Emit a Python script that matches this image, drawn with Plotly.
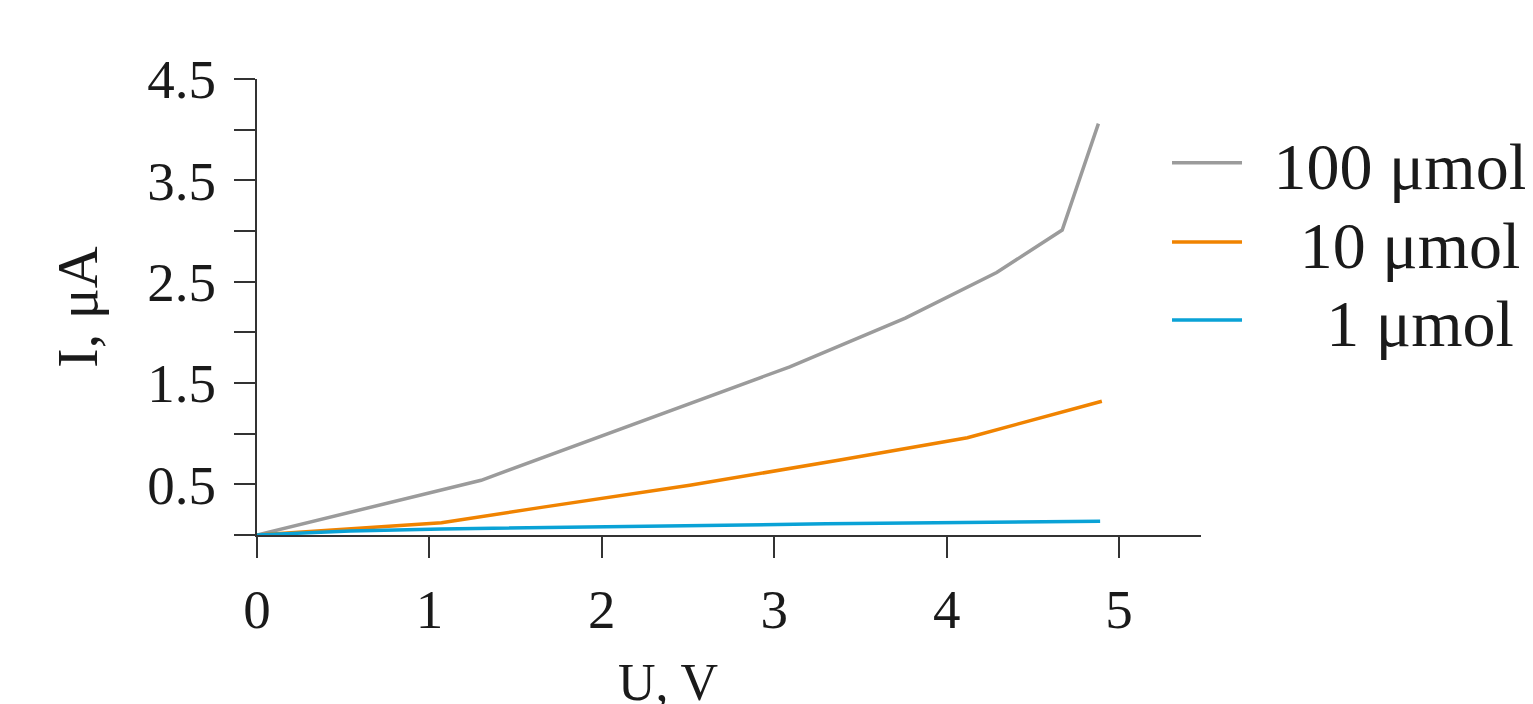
import plotly.graph_objects as go

# ---- data ----
series_names = ["100 μmol", "10 μmol", "1 μmol"]
pad = "\u2009\u2009"
legend_labels = [pad + "100 μmol", pad + "\u2009\u200910 μmol", pad + "\u2009\u2009\u2009\u20091 μmol"]
colors = ["#9b9b9b", "#f08300", "#0aa2d6"]

u_100 = [0.0, 1.30, 3.09, 3.76, 4.29, 4.67, 4.88]
i_100 = [0.0, 0.54, 1.66, 2.14, 2.59, 3.01, 4.06]

u_10 = [0.0, 1.07, 1.64, 2.51, 3.38, 4.12, 4.90]
i_10 = [0.0, 0.12, 0.27, 0.49, 0.74, 0.96, 1.32]

u_1 = [0.0, 0.54, 1.07, 1.70, 3.30, 4.89]
i_1 = [0.0, 0.04, 0.06, 0.075, 0.11, 0.135]

y_tickvals = [0, 0.5, 1, 1.5, 2, 2.5, 3, 3.5, 4, 4.5]
y_ticktext = ["", "0.5", "", "1.5", "", "2.5", "", "3.5", "", "4.5"]
x_tickvals = [0, 1, 2, 3, 4, 5]
x_ticktext = ["0", "1", "2", "3", "4", "5"]

FONT = "Liberation Serif, Times New Roman, serif"
TXT = "#1a1a1a"

legend_ids = ["legend", "legend2", "legend3"]
legend_y = [0.816, 0.6425, 0.4715]

fig = go.Figure()
for u, i, name, lab, col, lid in zip([u_100, u_10, u_1], [i_100, i_10, i_1],
                                     series_names, legend_labels, colors, legend_ids):
    fig.add_trace(go.Scatter(x=u, y=i, mode="lines", name=lab, legend=lid,
                             line=dict(color=col, width=3.5)))

legend_style = dict(x=0.964, xanchor="left", yanchor="middle",
                    font=dict(size=66, family=FONT, color=TXT),
                    itemwidth=70, bgcolor="rgba(0,0,0,0)")
legends = {lid: dict(legend_style, y=ly) for lid, ly in zip(legend_ids, legend_y)}

fig.update_layout(
    width=1533, height=704,
    margin=dict(l=249, r=340, t=71, b=177, autoexpand=False),
    paper_bgcolor="white", plot_bgcolor="white",
    font=dict(family=FONT, color=TXT),
    showlegend=True,
    **legends,
    xaxis=dict(range=[0, 5.475], tickvals=x_tickvals, ticktext=x_ticktext,
               showgrid=False, zeroline=False, showline=True,
               linecolor="#333333", linewidth=2,
               ticks="outside", ticklen=21, tickwidth=2, tickcolor="#333333",
               tickfont=dict(size=55, family=FONT, color=TXT),
               ticklabelstandoff=4),
    yaxis=dict(range=[0, 4.5], tickvals=y_tickvals, ticktext=y_ticktext,
               showgrid=False, zeroline=False, showline=True,
               linecolor="#333333", linewidth=2,
               ticks="outside", ticklen=21, tickwidth=2, tickcolor="#333333",
               tickfont=dict(size=55, family=FONT, color=TXT),
               ticklabelstandoff=7,
               title=dict(text="I, μA", font=dict(size=58, family=FONT, color=TXT),
                          standoff=31)),
)

fig.add_annotation(text="U, V", xref="paper", yref="paper",
                   x=0.435, y=-0.256, xanchor="center", yanchor="top",
                   showarrow=False, font=dict(size=52, family=FONT, color=TXT))

fig.write_html("out.html")
